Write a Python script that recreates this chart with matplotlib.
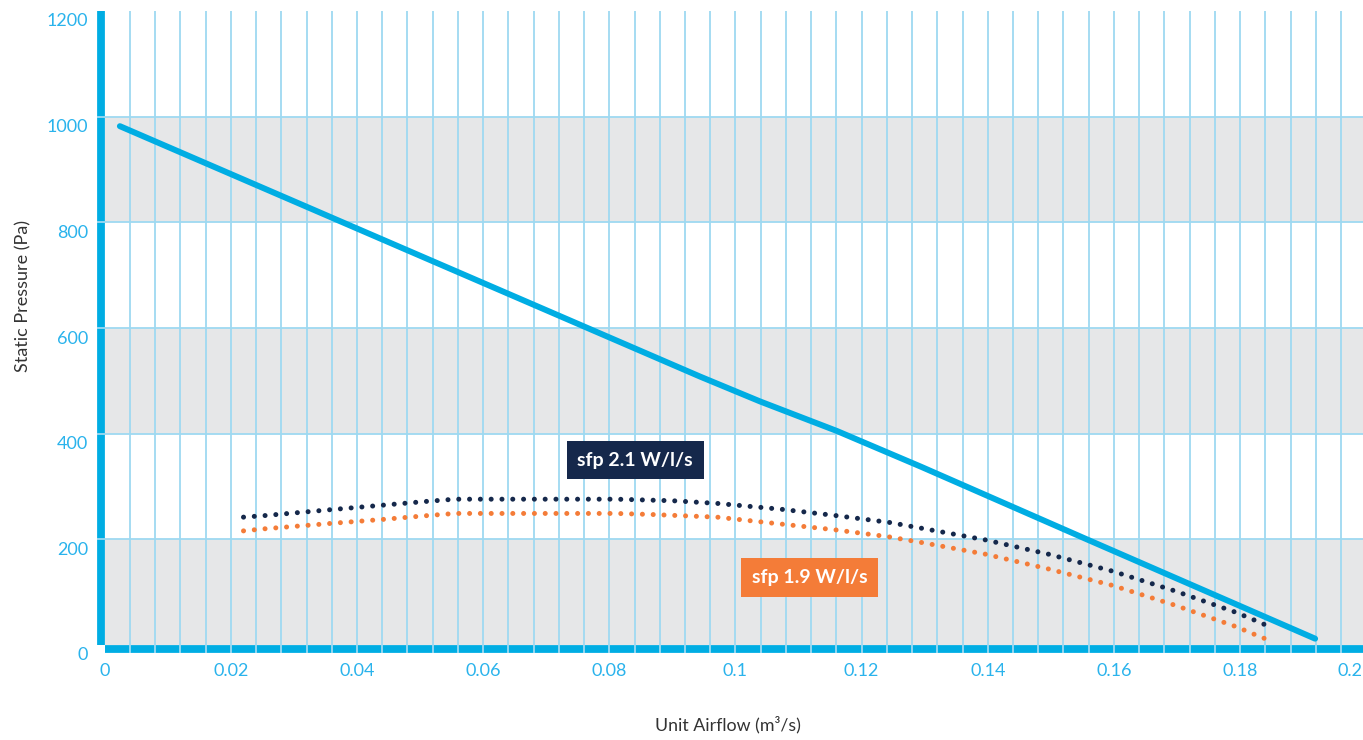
import matplotlib
matplotlib.use("Agg")
import matplotlib.pyplot as plt
import matplotlib.transforms as mtransforms
import numpy as np

plt.rcParams['font.family'] = ['Lato', 'DejaVu Sans']

# ---- data ----
fan_x = [0.0024, 0.0944, 0.1039, 0.1161, 0.1295, 0.1559, 0.1919]
fan_y = [982, 508, 461, 405, 337, 199, 12]

sfp21_x = [0.0220, 0.0254, 0.0357, 0.0444, 0.0512, 0.0555, 0.0811, 0.0901, 0.0971,
           0.1072, 0.1159, 0.1244, 0.1295, 0.1396, 0.1496, 0.1597, 0.1695, 0.1793,
           0.1825, 0.1848]
sfp21_y = [242, 245, 256, 265, 272, 276, 276, 273, 268, 257, 245, 232, 221, 199,
           172, 140, 103, 62, 46, 34]

sfp19_x = [0.0220, 0.0254, 0.0357, 0.0444, 0.0512, 0.0555, 0.0811, 0.0868, 0.0971,
           0.1056, 0.1158, 0.1242, 0.1295, 0.1396, 0.1496, 0.1597, 0.1695, 0.1793,
           0.1825, 0.1848]
sfp19_y = [216, 220, 230, 238, 245, 249, 249, 247, 242, 231, 218, 205, 194, 172,
           144, 113, 76, 35, 19, 8]

x_ticks = [0, 0.02, 0.04, 0.06, 0.08, 0.1, 0.12, 0.14, 0.16, 0.18, 0.2]
x_tick_labels = ['0', '0.02', '0.04', '0.06', '0.08', '0.1', '0.12', '0.14', '0.16', '0.18', '0.2']
y_ticks = [0, 200, 400, 600, 800, 1000, 1200]
y_tick_labels = ['0', '200', '400', '600', '800', '1000', '1200']
band_ranges = [(0, 200), (400, 600), (800, 1000)]
vgrid = [0.004 * i for i in range(1, 51)]
hgrid = [200, 400, 600, 800, 1000]

label_21 = ('sfp 2.1 W/l/s', 0.0841, 350)
label_19 = ('sfp 1.9 W/l/s', 0.1118, 128)

# ---- colours ----
BLUE = '#00ADE3'
TICK = '#2AB3EC'
GRID = '#9ED9F1'
GRAY = '#E6E7E8'
NAVY = '#15284B'
ORANGE = '#F47C38'
TXT = '#333333'

W, H = 1363, 740
fig = plt.figure(figsize=(W / 100, H / 100), dpi=100)
x0_px, x1_px = 104.75, 1366.2
ytop_px, ybot_px = 11, 645
ax = fig.add_axes([x0_px / W, (H - ybot_px) / H, (x1_px - x0_px) / W, (ybot_px - ytop_px) / H])
ax.set_xlim(0, 0.2)
ax.set_ylim(0, 1200)
ax.set_facecolor('white')

for lo, hi in band_ranges:
    ax.axhspan(lo, hi, color=GRAY, lw=0, zorder=0)

axh_px = ybot_px - ytop_px
axw_px = x1_px - x0_px
ax.vlines(vgrid, -8.0 / axh_px, 1, transform=ax.get_xaxis_transform(),
          colors=GRID, lw=1.3, zorder=2.6, clip_on=False)
ax.hlines(hgrid, -8.0 / axw_px, 1, transform=ax.get_yaxis_transform(),
          colors=GRID, lw=1.3, zorder=2.6, clip_on=False)

ax.plot(fan_x, fan_y, color=BLUE, lw=4.3, solid_capstyle='round',
        solid_joinstyle='round', zorder=4)
ax.plot(sfp21_x, sfp21_y, color=NAVY, lw=3.6, linestyle=(0, (0.01, 2.15)),
        dash_capstyle='round', zorder=4)
ax.plot(sfp19_x, sfp19_y, color=ORANGE, lw=3.6, linestyle=(0, (0.01, 2.15)),
        dash_capstyle='round', zorder=4)

for (txt, lx, ly), col in [(label_21, NAVY), (label_19, ORANGE)]:
    ax.text(lx, ly, txt, color='white', fontsize=14, fontweight='bold',
            ha='center', va='center', zorder=5,
            bbox=dict(boxstyle='square,pad=0.55', fc=col, ec='none'))

# spines
for s in ['top', 'right']:
    ax.spines[s].set_visible(False)
for s in ['left', 'bottom']:
    ax.spines[s].set_color(BLUE)
    ax.spines[s].set_linewidth(5.6)
    ax.spines[s].set_position(('outward', 2.9))
    ax.spines[s].set_capstyle('butt')

ax.set_xticks(x_ticks)
ax.set_xticklabels(x_tick_labels[:-1] + [''])
ax.set_yticks(y_ticks)
ax.set_yticklabels(y_tick_labels)
ax.tick_params(axis='both', length=0, labelsize=13, labelcolor=TICK)
ax.tick_params(axis='x', pad=10)
ax.tick_params(axis='y', pad=9)

# y tick labels sit a little below their gridlines
off = mtransforms.ScaledTranslation(0, -0.09, fig.dpi_scale_trans)
for lab in ax.get_yticklabels():
    lab.set_transform(lab.get_transform() + off)

# last x label (0.2) kept inside the figure edge
ax.annotate(x_tick_labels[-1], xy=(x_ticks[-1], 0), xycoords=('data', 'axes fraction'),
            xytext=(-4, -26.5), textcoords='offset pixels', ha='right', va='center',
            fontsize=13, color=TICK, annotation_clip=False)

fig.text(23 / W, 1 - 296 / H, 'Static Pressure (Pa)', rotation=90, ha='center',
         va='center', fontsize=13, color=TXT)
fig.text(727.5 / W, 1 - 725 / H, 'Unit Airflow (m³/s)', ha='center', va='center',
         fontsize=12.8, color=TXT)

fig.savefig('out.png', dpi=100, facecolor='white')
